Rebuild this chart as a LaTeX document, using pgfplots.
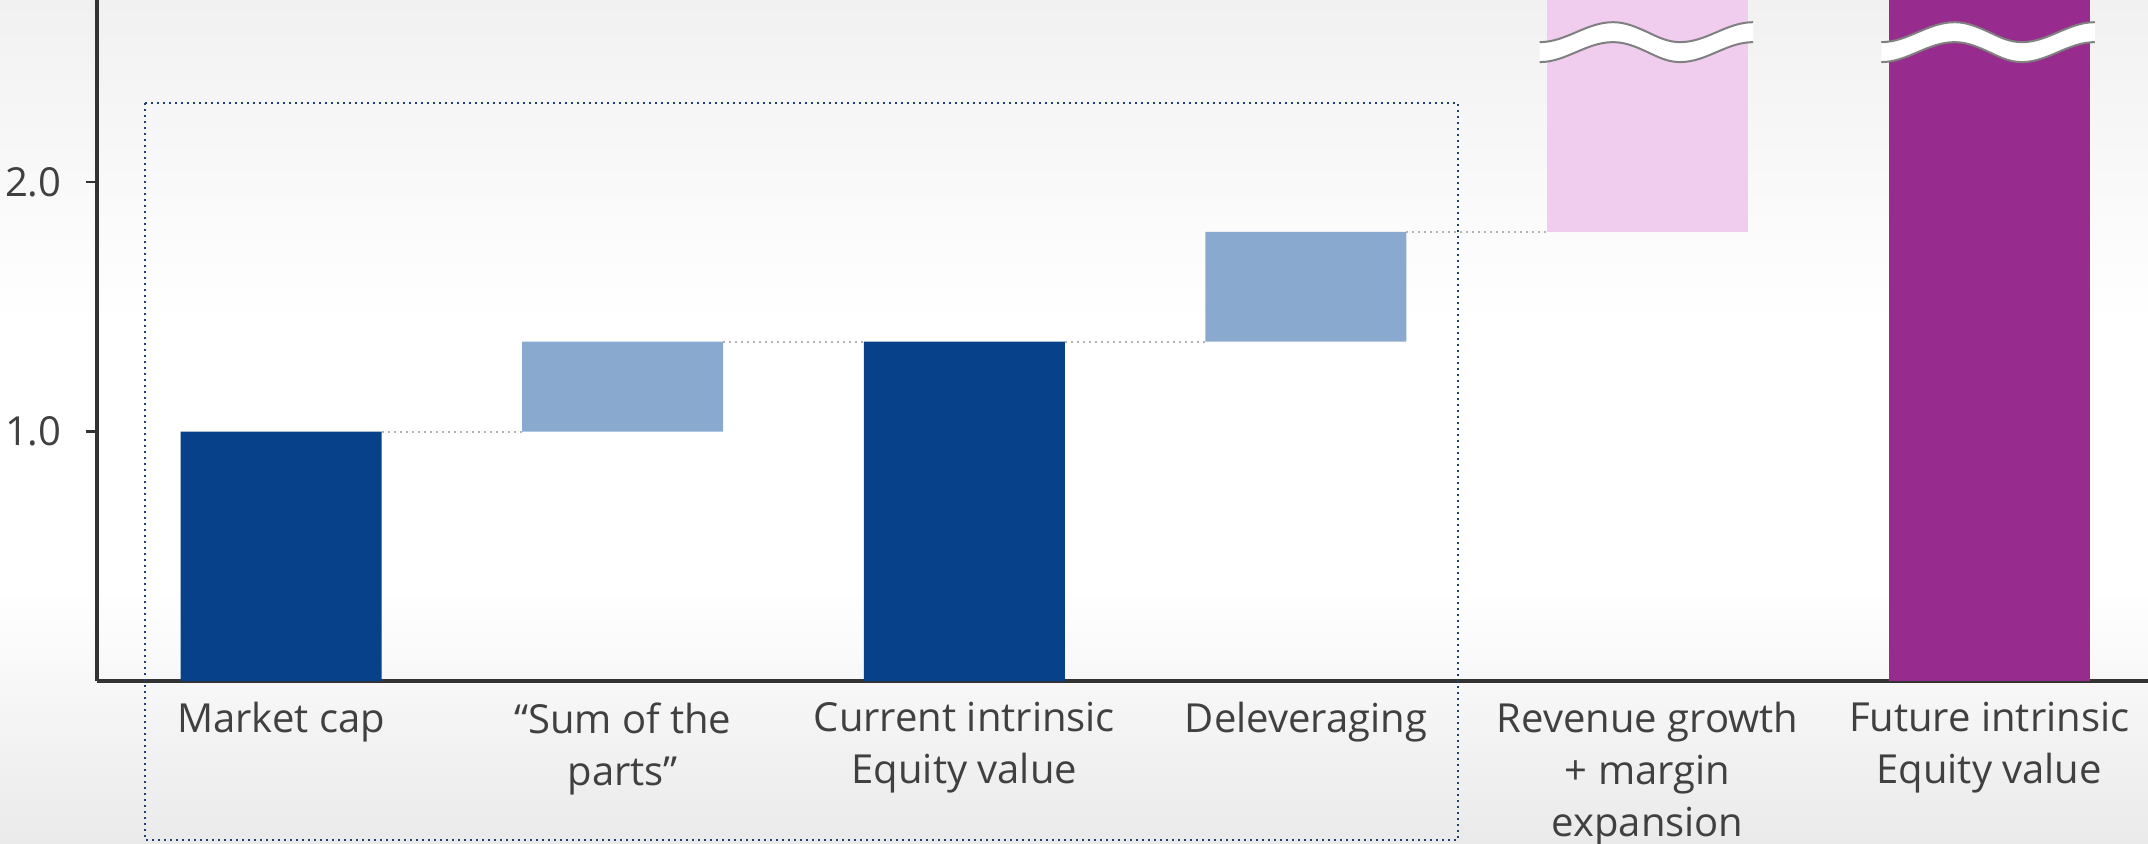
\documentclass[border=0pt]{standalone}
\usepackage{fontspec}
\setmainfont{Open Sans}
\usepackage{pgfplots}
\pgfplotsset{compat=1.18}
\usetikzlibrary{backgrounds}
\definecolor{darkblue}{HTML}{06418A}
\definecolor{lightblue}{HTML}{8AA9CF}
\definecolor{pinkbar}{HTML}{F0CDEF}
\definecolor{purplebar}{HTML}{972B8E}
\definecolor{boxblue}{HTML}{1F3F77}
\definecolor{textgrey}{HTML}{404040}
\definecolor{axisgrey}{HTML}{333333}
\definecolor{bgtop}{HTML}{F1F1F1}
\definecolor{bgbot}{HTML}{EAEAEA}
\pgfdeclareverticalshading{bgshade}{100bp}{color(0bp)=(bgbot); color(25bp)=(bgbot); color(40bp)=(white); color(56bp)=(white); color(75bp)=(bgtop); color(100bp)=(bgtop)}
\newcommand{\brk}[7]{%
  \fill[white] (axis cs:#1,2.561) cos (axis cs:#2,2.601) sin (axis cs:#3,2.641) cos (axis cs:#4,2.601) sin (axis cs:#5,2.561) cos (axis cs:#6,2.601) sin (axis cs:#7,2.641)
     -- (axis cs:#7,2.561) cos (axis cs:#6,2.521) sin (axis cs:#5,2.481) cos (axis cs:#4,2.521) sin (axis cs:#3,2.561) cos (axis cs:#2,2.521) sin (axis cs:#1,2.481) -- cycle;
  \draw[gray, line width=0.5pt] (axis cs:#1,2.561) cos (axis cs:#2,2.601) sin (axis cs:#3,2.641) cos (axis cs:#4,2.601) sin (axis cs:#5,2.561) cos (axis cs:#6,2.601) sin (axis cs:#7,2.641);
  \draw[gray, line width=0.5pt] (axis cs:#1,2.481) cos (axis cs:#2,2.521) sin (axis cs:#3,2.561) cos (axis cs:#4,2.521) sin (axis cs:#5,2.481) cos (axis cs:#6,2.521) sin (axis cs:#7,2.561);
}
\begin{document}
\begin{tikzpicture}
\begin{axis}[
  at={(0,0)}, anchor=south west,
  scale only axis, width=512.75pt, height=170.25pt,
  xmin=-0.539, xmax=5.465, ymin=0, ymax=2.73,
  axis x line*=bottom, axis y line*=left,
  axis line style={draw=axisgrey, line width=0.8pt},
  ybar stacked, bar width=50.25pt,
  xtick={0,1,2,3,4,5},
  xticklabels={Market cap, {“Sum of the\\parts”}, {Current intrinsic\\Equity value}, Deleveraging, {Revenue growth\\+ margin\\expansion}, {Future intrinsic\\Equity value}},
  x tick style={draw=none},
  xticklabel style={align=center, yshift=0.9pt},
  ytick={1,2}, tick align=outside, major tick length=2.75pt,
  y tick style={draw=axisgrey, line width=0.6pt},
  yticklabel style={xshift=-2.6pt, /pgf/number format/.cd, fixed, fixed zerofill, precision=1, assume math mode=true},
  tick label style={font=\fontsize{10}{13}\selectfont, text=textgrey},
  clip=false,
]
\addplot[draw=none, fill=none] coordinates {(0,0) (1,1.0) (2,0) (3,1.36) (4,1.8) (5,0)};
\addplot[draw=none, fill=darkblue] coordinates {(0,1.0) (1,0) (2,1.36) (3,0) (4,0) (5,0)};
\addplot[draw=none, fill=lightblue] coordinates {(0,0) (1,0.36) (2,0) (3,0.44) (4,0) (5,0)};
\addplot[draw=none, fill=pinkbar] coordinates {(0,0) (1,0) (2,0) (3,0) (4,0.93) (5,0)};
\addplot[draw=none, fill=purplebar] coordinates {(0,0) (1,0) (2,0) (3,0) (4,0) (5,2.73)};
\end{axis}
\begin{axis}[
  at={(0,0)}, anchor=south west,
  scale only axis, width=512.75pt, height=170.25pt,
  xmin=-0.539, xmax=5.465, ymin=0, ymax=2.73,
  hide axis, clip=false,
]
\addplot[gray!60, densely dotted, line width=0.5pt] coordinates {(0.294,1.0) (0.706,1.0)};
\addplot[gray!60, densely dotted, line width=0.5pt] coordinates {(1.294,1.36) (1.706,1.36)};
\addplot[gray!60, densely dotted, line width=0.5pt] coordinates {(2.294,1.36) (2.706,1.36)};
\addplot[gray!60, densely dotted, line width=0.5pt] coordinates {(3.294,1.8) (3.706,1.8)};
\draw[boxblue, densely dotted, line width=0.5pt] (axis cs:-0.398,2.317) rectangle (axis cs:3.445,-0.637);
\brk{3.684}{3.791}{3.899}{4.000}{4.095}{4.202}{4.309}
\brk{4.684}{4.791}{4.899}{5.000}{5.095}{5.202}{5.309}
\end{axis}
\begin{scope}[on background layer]
\shade[shading=bgshade] (-24.25pt,-40.75pt) rectangle (512.75pt,170.25pt);
\end{scope}
\pgfresetboundingbox
\path[use as bounding box] (-24.25pt,-40.75pt) rectangle (512.75pt,170.25pt);
\end{tikzpicture}
\end{document}
